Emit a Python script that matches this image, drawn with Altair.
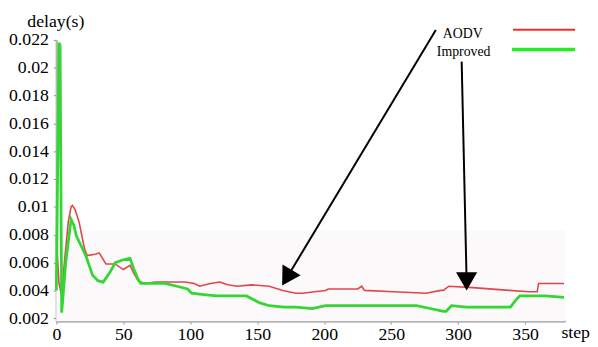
import altair as alt
import pandas as pd

# ---- data ----
aodv_step = [0, 2, 4, 6, 9, 11, 12, 14, 17, 21, 23, 29, 32, 37, 44, 50, 55, 58, 61, 66,
             74, 96, 103, 107, 115, 122, 128, 135, 146, 159, 169, 179, 184, 193, 201, 203,
             215, 225, 228, 230, 252, 276, 287, 289, 293, 311, 338, 353, 359, 360, 379]
aodv_delay = [0.0078, 0.0045, 0.0036, 0.0060, 0.0090, 0.0100, 0.0101, 0.0098, 0.0089, 0.0070,
              0.0065, 0.0066, 0.0067, 0.0059, 0.0059, 0.0055, 0.0058, 0.0052, 0.0047, 0.0045,
              0.0046, 0.0046, 0.0045, 0.0043, 0.0045, 0.0046, 0.0044, 0.0043, 0.0044, 0.0043,
              0.0040, 0.0038, 0.0038, 0.0039, 0.0040, 0.0041, 0.0041, 0.0041, 0.0043, 0.0040,
              0.0039, 0.0038, 0.0040, 0.0040, 0.0043, 0.0042, 0.0040, 0.0039, 0.0039, 0.0045,
              0.0045]

imp_step = [0, 2, 2.8, 4, 7, 11, 13, 15, 19, 22, 27, 31, 35, 40, 44, 50, 55, 58, 61, 63,
            70, 81, 90, 98, 101, 110, 120, 135, 142, 146, 152, 159, 170, 179, 191, 201,
            230, 269, 279, 289, 291, 295, 306, 339, 343, 346, 355, 365, 379]
imp_delay = [0.0040, 0.0218, 0.0216, 0.0024, 0.0060, 0.0091, 0.0087, 0.0079, 0.0071, 0.0065,
             0.0051, 0.0047, 0.0046, 0.0053, 0.0060, 0.0062, 0.0063, 0.0055, 0.0048, 0.0045,
             0.0045, 0.0045, 0.0043, 0.0041, 0.0038, 0.0037, 0.0036, 0.0036, 0.0036, 0.0034,
             0.0031, 0.0029, 0.0028, 0.0028, 0.0027, 0.0029, 0.0029, 0.0029, 0.0027, 0.0025,
             0.0025, 0.0029, 0.0028, 0.0028, 0.0033, 0.0036, 0.0036, 0.0036, 0.0035]

x_ticks = [0, 50, 100, 150, 200, 250, 300, 350]
y_ticks = [0.002, 0.004, 0.006, 0.008, 0.01, 0.012, 0.014, 0.016, 0.018, 0.02, 0.022]

series_names = ["AODV", "Improved"]

# annotation anchors (data coordinates)
arrow_from_step = [283.3, 302.6]
arrow_from_delay = [0.02271, 0.02044]
arrow_to_step = [172.1, 306.3]
arrow_to_delay = [0.004912, 0.004643]
arrow_angle = [31, 0]

legend_text_step = [303.4, 304.1]
legend_text_delay = [0.02242, 0.02115]
legend_line_step1 = [340.9, 340.2]
legend_line_step2 = [387.3, 387.3]
legend_line_delay = [0.02273, 0.02131]

band_step = [0, 380]
band_delay = [0.0018, 0.0083]

# ---- tables ----
aodv_df = pd.DataFrame({"step": aodv_step, "delay": aodv_delay})
imp_df = pd.DataFrame({"step": imp_step, "delay": imp_delay})
arrows = pd.DataFrame({"x": arrow_from_step, "y": arrow_from_delay,
                       "x2": arrow_to_step, "y2": arrow_to_delay, "angle": arrow_angle})
leg_text = pd.DataFrame({"x": legend_text_step, "y": legend_text_delay, "label": series_names})
leg_line = pd.DataFrame({"x": legend_line_step1, "x2": legend_line_step2,
                         "y": legend_line_delay, "series": series_names})
band = pd.DataFrame({"x": [band_step[0]], "x2": [band_step[1]],
                     "y": [band_delay[0]], "y2": [band_delay[1]]})

FONT = "Liberation Serif"
xs = alt.Scale(domain=[0, 380], nice=False, zero=False)
ys = alt.Scale(domain=[0.0018, 0.022], nice=False, zero=False)

x_axis = alt.Axis(values=x_ticks, title="step", titleX=526, titleY=17, titleAlign="center",
                  titleBaseline="alphabetic", titleFont=FONT, titleFontSize=18,
                  titleFontWeight="normal", titleColor="black",
                  labelFont=FONT, labelFontSize=18, labelColor="black", labelPadding=2,
                  labelFlush=False, labelOverlap=False,
                  tickSize=3, tickColor="#8a8a8a", domainColor="#b5b5b5", domainWidth=2.5,
                  grid=False)
y_axis = alt.Axis(values=y_ticks, format="~f", title="delay(s)", titleAngle=0, titleX=-1,
                  titleY=-14, titleAlign="center", titleBaseline="alphabetic", titleFont=FONT,
                  titleFontSize=18, titleFontWeight="normal", titleColor="black",
                  labelFont=FONT, labelFontSize=18, labelColor="black", labelPadding=5,
                  labelOverlap=False, labelFlush=False,
                  tickSize=3, tickColor="#8a8a8a", domainColor="#b5b5b5", domainWidth=2.5,
                  grid=False)


def X(field):
    return alt.X(field, scale=xs, axis=x_axis, title="step")


def Y(field):
    return alt.Y(field, scale=ys, axis=y_axis, title="delay(s)")


bg = alt.Chart(band).mark_rect(color="#fbf9f9").encode(
    x=X("x:Q"), x2="x2:Q", y=Y("y:Q"), y2="y2:Q")

red = alt.Chart(aodv_df).mark_line(color="#e0474c", strokeWidth=1.6).encode(
    x=X("step:Q"), y=Y("delay:Q"))
green = alt.Chart(imp_df).mark_line(color="#33d633", strokeWidth=2.8).encode(
    x=X("step:Q"), y=Y("delay:Q"))

shafts = alt.Chart(arrows).mark_rule(color="black", strokeWidth=2).encode(
    x=X("x:Q"), y=Y("y:Q"), x2="x2:Q", y2="y2:Q")
heads = alt.Chart(arrows).mark_point(shape="triangle-down", filled=True, size=460,
                                     color="black", opacity=1).encode(
    x=X("x2:Q"), y=Y("y2:Q"), angle=alt.Angle("angle:Q", scale=None))

ltext = alt.Chart(leg_text).mark_text(font=FONT, fontSize=14, color="black",
                                      align="center", baseline="middle").encode(
    x=X("x:Q"), y=Y("y:Q"), text="label:N")
lline = alt.Chart(leg_line).mark_rule().encode(
    x=X("x:Q"), x2="x2:Q", y=Y("y:Q"),
    color=alt.Color("series:N", scale=alt.Scale(domain=series_names,
                                                 range=["#ff2a2a", "#22ee22"]), legend=None),
    strokeWidth=alt.StrokeWidth("series:N", scale=alt.Scale(domain=series_names,
                                                             range=[2, 3.5]), legend=None))

chart = alt.layer(bg, red, green, shafts, heads, ltext, lline).properties(
    width=516, height=285,
    autosize=alt.AutoSizeParams(type="none"),
    padding={"left": 49, "top": 30, "right": 25, "bottom": 24},
    background="white",
).configure_view(stroke=None).configure_axis(
    labelFont=FONT, titleFont=FONT, labelFontSize=18, titleFontSize=18,
    titleFontWeight="normal", labelColor="black", titleColor="black")

chart.save("out.html", embed_options={"renderer": "svg", "actions": False})
